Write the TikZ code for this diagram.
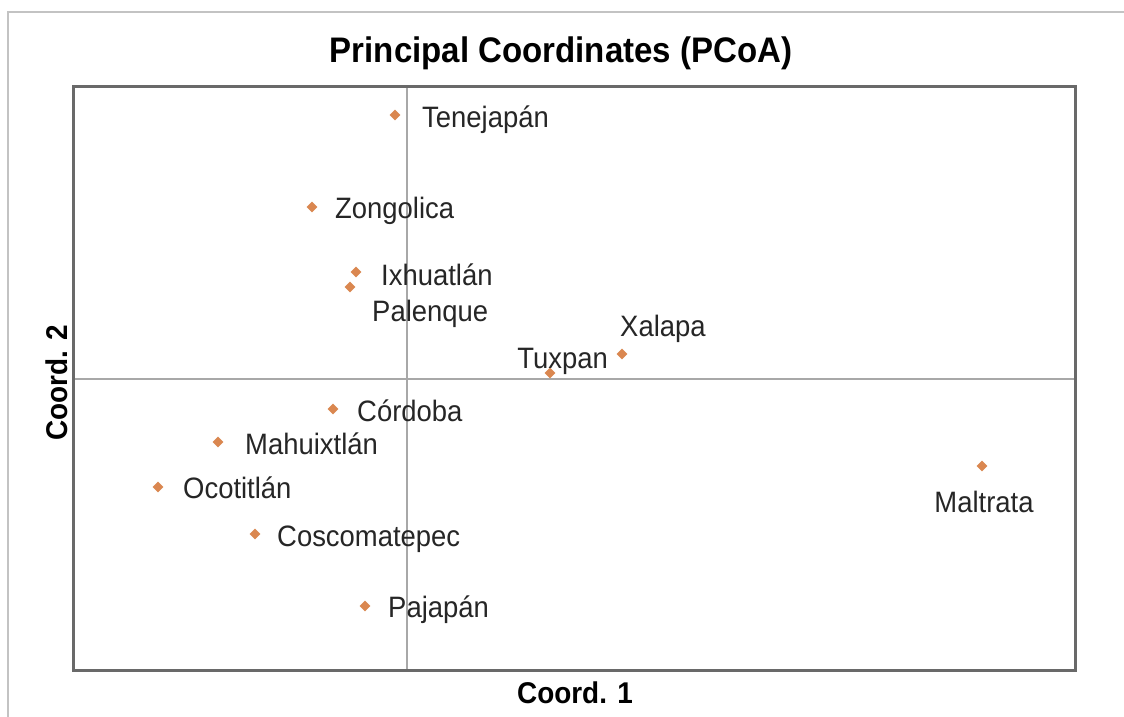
\documentclass[tikz,border=0pt]{standalone}
\usepackage{fontspec}
\setmainfont[FakeStretch=0.93]{Liberation Sans}
\usetikzlibrary{shapes.geometric}
\definecolor{markc}{RGB}{218,135,80}
\definecolor{framec}{RGB}{105,105,105}
\definecolor{axisc}{RGB}{168,168,168}
\definecolor{outerc}{RGB}{195,195,195}
\tikzset{
  marker/.style={diamond, fill=markc, draw=none, minimum size=11pt, inner sep=0pt},
  lab/.style={inner sep=0pt, font=\fontsize{29.5}{32}\selectfont, text=black!85},
  axlab/.style={inner sep=0pt, font=\fontsize{30}{34}\selectfont\bfseries},
  ttl/.style={inner sep=0pt, font=\fontsize{35.5}{40}\selectfont\bfseries},
  frame/.style={draw=framec, line width=3pt},
  axisline/.style={draw=axisc, line width=1.8pt},
  outer/.style={draw=outerc, line width=2.5pt}
}
\begin{document}
\begin{tikzpicture}[x=1pt,y=-1pt]
\useasboundingbox (0,0) rectangle (1124,717);
\fill[white] (0,0) rectangle (1124,717);
% outer border
\coordinate (o1) at (8,717);
\coordinate (o2) at (8,12);
\coordinate (o3) at (1124,12);
\draw[outer] (o1) -- (o2) -- (o3);
% axes
\coordinate (hl) at (73,379);
\coordinate (hr) at (1075,379);
\coordinate (vt) at (407,86);
\coordinate (vb) at (407,670);
\draw[axisline] (hl) -- (hr);
\draw[axisline] (vt) -- (vb);
% frame
\coordinate (f1) at (73,86);
\coordinate (f2) at (1075,670);
\draw[frame] (f1) rectangle (f2);
% title and axis labels
\node[ttl, anchor=base] (title) at (561,63) {Principal Coordinates (PCoA)};
\node[axlab, anchor=base] (xlab) at (575,703) {Coord. 1};
\node[axlab, anchor=base, rotate=90] (ylab) at (67,383) {Coord. 2};
% points
\node[marker] (pTen) at (395,115) {};
\node[marker] (pZon) at (312,207) {};
\node[marker] (pIxh) at (356,272) {};
\node[marker] (pPal) at (350,287) {};
\node[marker] (pXal) at (622,354) {};
\node[marker] (pTux) at (550,373) {};
\node[marker] (pCor) at (333,409) {};
\node[marker] (pMah) at (218,442) {};
\node[marker] (pOco) at (158,487) {};
\node[marker] (pCos) at (255,534) {};
\node[marker] (pPaj) at (365,606) {};
\node[marker] (pMal) at (982,466) {};
% labels
\node[lab, anchor=base west] (lTen) at (422,127) {Tenejapán};
\node[lab, anchor=base west] (lZon) at (335,218) {Zongolica};
\node[lab, anchor=base west] (lIxh) at (381,285) {Ixhuatlán};
\node[lab, anchor=base west] (lPal) at (372,321) {Palenque};
\node[lab, anchor=base west] (lXal) at (620,336) {Xalapa};
\node[lab, anchor=base east] (lTux) at (608,368) {Tuxpan};
\node[lab, anchor=base west] (lCor) at (357,421) {Córdoba};
\node[lab, anchor=base west] (lMah) at (245,454) {Mahuixtlán};
\node[lab, anchor=base west] (lOco) at (183,498) {Ocotitlán};
\node[lab, anchor=base west] (lCos) at (277,546) {Coscomatepec};
\node[lab, anchor=base west] (lPaj) at (388,617) {Pajapán};
\node[lab, anchor=base] (lMal) at (984,512) {Maltrata};
\end{tikzpicture}
\end{document}
